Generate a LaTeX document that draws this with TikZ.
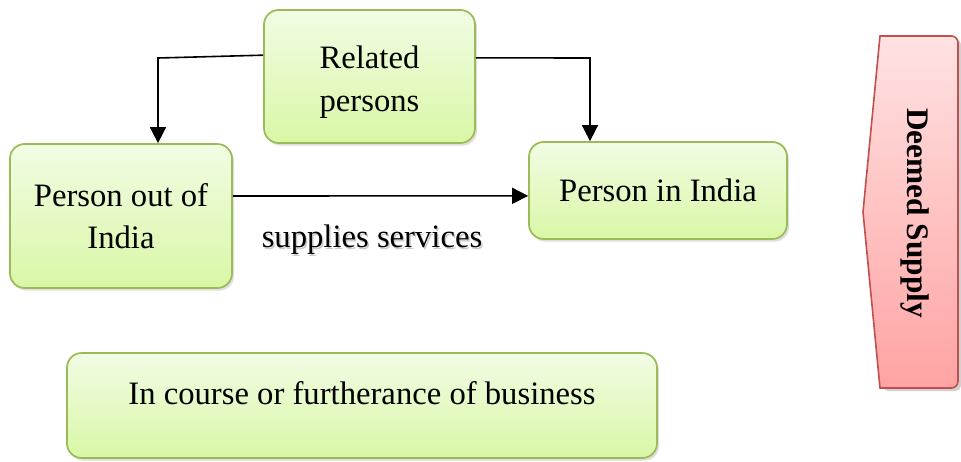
\documentclass[tikz,border=0pt]{standalone}
\usepackage{fontspec}
\setmainfont{Liberation Serif}
\usetikzlibrary{arrows.meta,shadows,calc}
\definecolor{gtop}{HTML}{F2FCE4}
\definecolor{gbot}{HTML}{D9F7A6}
\definecolor{gline}{HTML}{9BBB59}
\definecolor{rtop}{HTML}{FFE2E2}
\definecolor{rbot}{HTML}{FFA3A3}
\definecolor{rline}{HTML}{C0504D}
\tikzset{
  gbox/.style={draw=gline, line width=1.3pt, rounded corners=11pt, top color=gtop, bottom color=gbot,
    drop shadow={opacity=0.25, shadow xshift=1.5pt, shadow yshift=-2pt},
    align=center, font=\fontsize{24.5}{32}\selectfont, inner sep=0pt},
  arr/.style={line width=1.2pt, -{Triangle[width=12pt,length=12pt]}},
  lbl/.style={font=\fontsize{24.5}{32}\selectfont, align=center}
}
\begin{document}
\begin{tikzpicture}[x=0.75pt,y=-0.75pt]
\path[use as bounding box] (0,0) rectangle (961,461);
\node[gbox, minimum width=158.25pt, minimum height=99.75pt] (rel) at (369.5,76.5) {};
\node[lbl] (reltext) at (369.5,82) {Related\\persons};
\node[gbox, minimum width=166.5pt, minimum height=108pt] (pout) at (121,216) {Person out of\\India};
\node[gbox, minimum width=193.5pt, minimum height=72.75pt] (pin) at (658,190.5) {Person in India};
\node[gbox, minimum width=442.5pt, minimum height=78.75pt] (biz) at (362,405.5) {};
\node[lbl] (biztext) at (362,393) {In course or furtherance of business};
% connectors
\coordinate (cl) at (158,58);
\coordinate (cr) at (590,58);
\draw[arr] ([yshift=16pt]rel.west) -- (cl) -- (cl |- pout.north);
\draw[arr] ([yshift=14pt]rel.east) -- (cr) -- (cr |- pin.north);
\draw[arr] ([yshift=15pt]pout.east) -- ([yshift=-4pt]pin.west);
\node[lbl, text=black!35, opacity=0.6] (supsh) at (373.5,241.5) {supplies services};
\node[lbl] (sup) at (372,240) {supplies services};
% deemed supply
\fill[black, opacity=0.18, rounded corners=4pt] (883,39) -- (961,39) -- (961,391) -- (883,391) -- (866,215) -- cycle;
\shade[top color=rtop, bottom color=rbot] (880,36) [rounded corners=5pt] -- (958,36) -- (958,388) [sharp corners] -- (880,388) -- (863,212) -- cycle;
\draw[rline, line width=1.2pt] (880,36) [rounded corners=5pt] -- (958,36) -- (958,388) [sharp corners] -- (880,388) -- (863,212) -- cycle;
\node[font=\fontsize{23.5}{26}\selectfont\bfseries, rotate=-90] (deemed) at (915,213) {Deemed Supply};
\end{tikzpicture}
\end{document}
